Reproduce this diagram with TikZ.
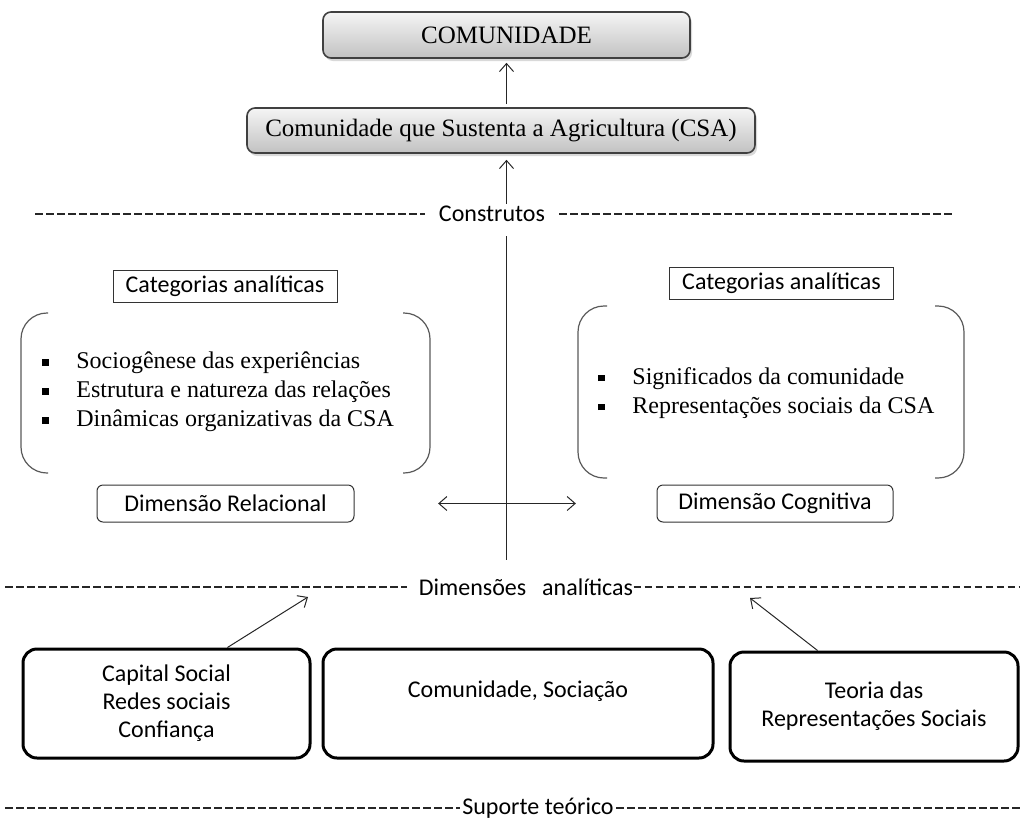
\documentclass[tikz,border=0pt]{standalone}
\usepackage{fontspec}
\setmainfont{Liberation Serif}
\setsansfont{Carlito}
\usetikzlibrary{positioning,calc,arrows.meta,shadows}
\newcommand{\marca}{\makebox[17pt][l]{\raisebox{1.6pt}{\rule{3.3pt}{3.3pt}}}}
\tikzset{
    seta/.style={draw=black!85, line width=0.5pt},
}

\begin{document}
\begin{tikzpicture}[x=0.5pt, y=-0.5pt, >={Straight Barb[length=4pt,width=7pt]},
  topo/.style={draw=black!75, line width=0.8pt, rounded corners=4pt, top color=black!4, bottom color=black!24, drop shadow={shadow xshift=1pt, shadow yshift=-1.5pt, opacity=0.3}, inner sep=0pt, font=\fontsize{12.5}{15}\selectfont},
  categoria/.style={draw=black!80, line width=0.5pt, minimum width=112pt, minimum height=16pt, inner sep=0pt, font=\sffamily\fontsize{12}{14}\selectfont},
  dimensao/.style={categoria, rounded corners=3pt, minimum height=18.5pt},
  lista/.style={align=left, inner sep=0pt, anchor=west, font=\fontsize{12}{14.5}\selectfont},
  parentese/.style={draw=black!65, line width=0.6pt, rounded corners=13pt},
  divisoria/.style={draw=black!85, line width=1.2pt, dash pattern=on 3.8pt off 1.7pt},
  titulo/.style={inner xsep=7pt, inner ysep=1pt, font=\sffamily\fontsize{12}{14}\selectfont},
  basebox/.style={draw, line width=1.5pt, rounded corners=7pt, align=center, inner sep=0pt, minimum height=54.5pt, font=\sffamily\fontsize{12}{14}\selectfont}]
  \useasboundingbox (0,0) rectangle (1022,831);

  \node[topo, minimum width=183.5pt, minimum height=23pt] (comunidade) at (506.5,35) {COMUNIDADE};
  \node[topo, minimum width=254pt, minimum height=22.5pt] (csa) at (501,130.5) {Comunidade que Sustenta a Agricultura (CSA)};

  \node[titulo] (construtos) at (492,214) {Construtos};
  \coordinate (construtosL) at (35,214);
  \coordinate (construtosR) at (953,214);

  % DIMENSAO RELACIONAL
  \node[categoria] (relcattitle) at (225,286) {Categorias analíticas};
  \node[lista] (relcat) at (42,392)
    {\marca Sociogênese das experiências\\
     \marca Estrutura e natureza das relações\\
     \marca Dinâmicas organizativas da CSA};
  \coordinate (relnw) at (21,313);
  \coordinate (relse) at (430,473);
  \node[dimensao, minimum width=128.5pt] (relacional) at (225.5,503.5) {Dimensão Relacional};

  % DIMENSAO COGNITIVA
  \node[categoria] (cogcattitle) at (781.5,283.5) {Categorias analíticas};
  \node[lista] (cogcat) at (598,393)
    {\marca Significados da comunidade\\
     \marca Representações sociais da CSA};
  \coordinate (cognw) at (578,306);
  \coordinate (cogse) at (964,478);
  \node[dimensao, minimum width=118pt] (cognitiva) at (775,503.5) {Dimensão Cognitiva};

  \node[titulo, inner xsep=0pt] (dimensoes) at (526,587) {Dimensões\hspace{8pt}analíticas};
  \coordinate (dimensoesL) at (5,587);
  \coordinate (dimensoesR) at (1020,587);

  % SUPORTE TEORICO
  \node[basebox, minimum width=143.5pt] (capital) at (166.5,703.5) {Capital Social\\Redes sociais\\Confiança};
  \node[basebox, minimum width=195pt, right=5pt of capital] (sociacao) {Comunidade, Sociação\\~};
  \node[basebox, minimum width=144pt, right=7pt of sociacao, yshift=-1.5pt] (teoria) {Teoria das\\Representações Sociais};
  \coordinate (capitalalvo) at (308,597);
  \coordinate (teoriaalvo) at (750,598);

  \node[titulo, inner xsep=1pt] (suporte) at (538,808) {Suporte teórico};
  \coordinate (suporteL) at (5,808);
  \coordinate (suporteR) at (1020,808);

  % LINHAS DIVISORIAS
  \draw[divisoria] (construtosL) -- (construtos);
  \draw[divisoria] (construtos) -- (construtosR);
  \draw[divisoria, shorten >=6pt] (dimensoesL) -- (dimensoes);
  \draw[divisoria] (dimensoes) -- (dimensoesR);
  \draw[divisoria] (suporteL) -- (suporte);
  \draw[divisoria] (suporte) -- (suporteR);

  % PARENTESES
  \draw[parentese] ($(relnw)+(27,0)$) -- (relnw) -- (relnw |- relse) -- ++(27,0);
  \draw[parentese] ($(relse)+(-27,0)$) -- (relse) -- (relse |- relnw) -- ++(-27,0);
  \draw[parentese] ($(cognw)+(29,0)$) -- (cognw) -- (cognw |- cogse) -- ++(29,0);
  \draw[parentese] ($(cogse)+(-29,0)$) -- (cogse) -- (cogse |- cognw) -- ++(-29,0);

  % CONEXOES
  \draw[seta, ->, shorten <=1.5pt, shorten >=2pt] (csa.north -| comunidade.south) -- (comunidade.south);
  \draw[seta, ->, shorten >=3pt] (construtos.north -| comunidade.south) -- (csa.south -| comunidade.south);
  \draw[seta, shorten <=6pt, shorten >=8pt] (construtos.south -| comunidade.south) -- (dimensoes.north -| comunidade.south);
  \draw[seta, <->] ($(relacional.east)!0.277!(cognitiva.west)$) -- ($(relacional.east)!0.733!(cognitiva.west)$);
  \draw[seta, ->] ($(capital.north west)!0.71!(capital.north east)$) -- (capitalalvo);
  \draw[seta, ->] ($(teoria.north west)!0.306!(teoria.north east)$) -- (teoriaalvo);
\end{tikzpicture}
\end{document}
